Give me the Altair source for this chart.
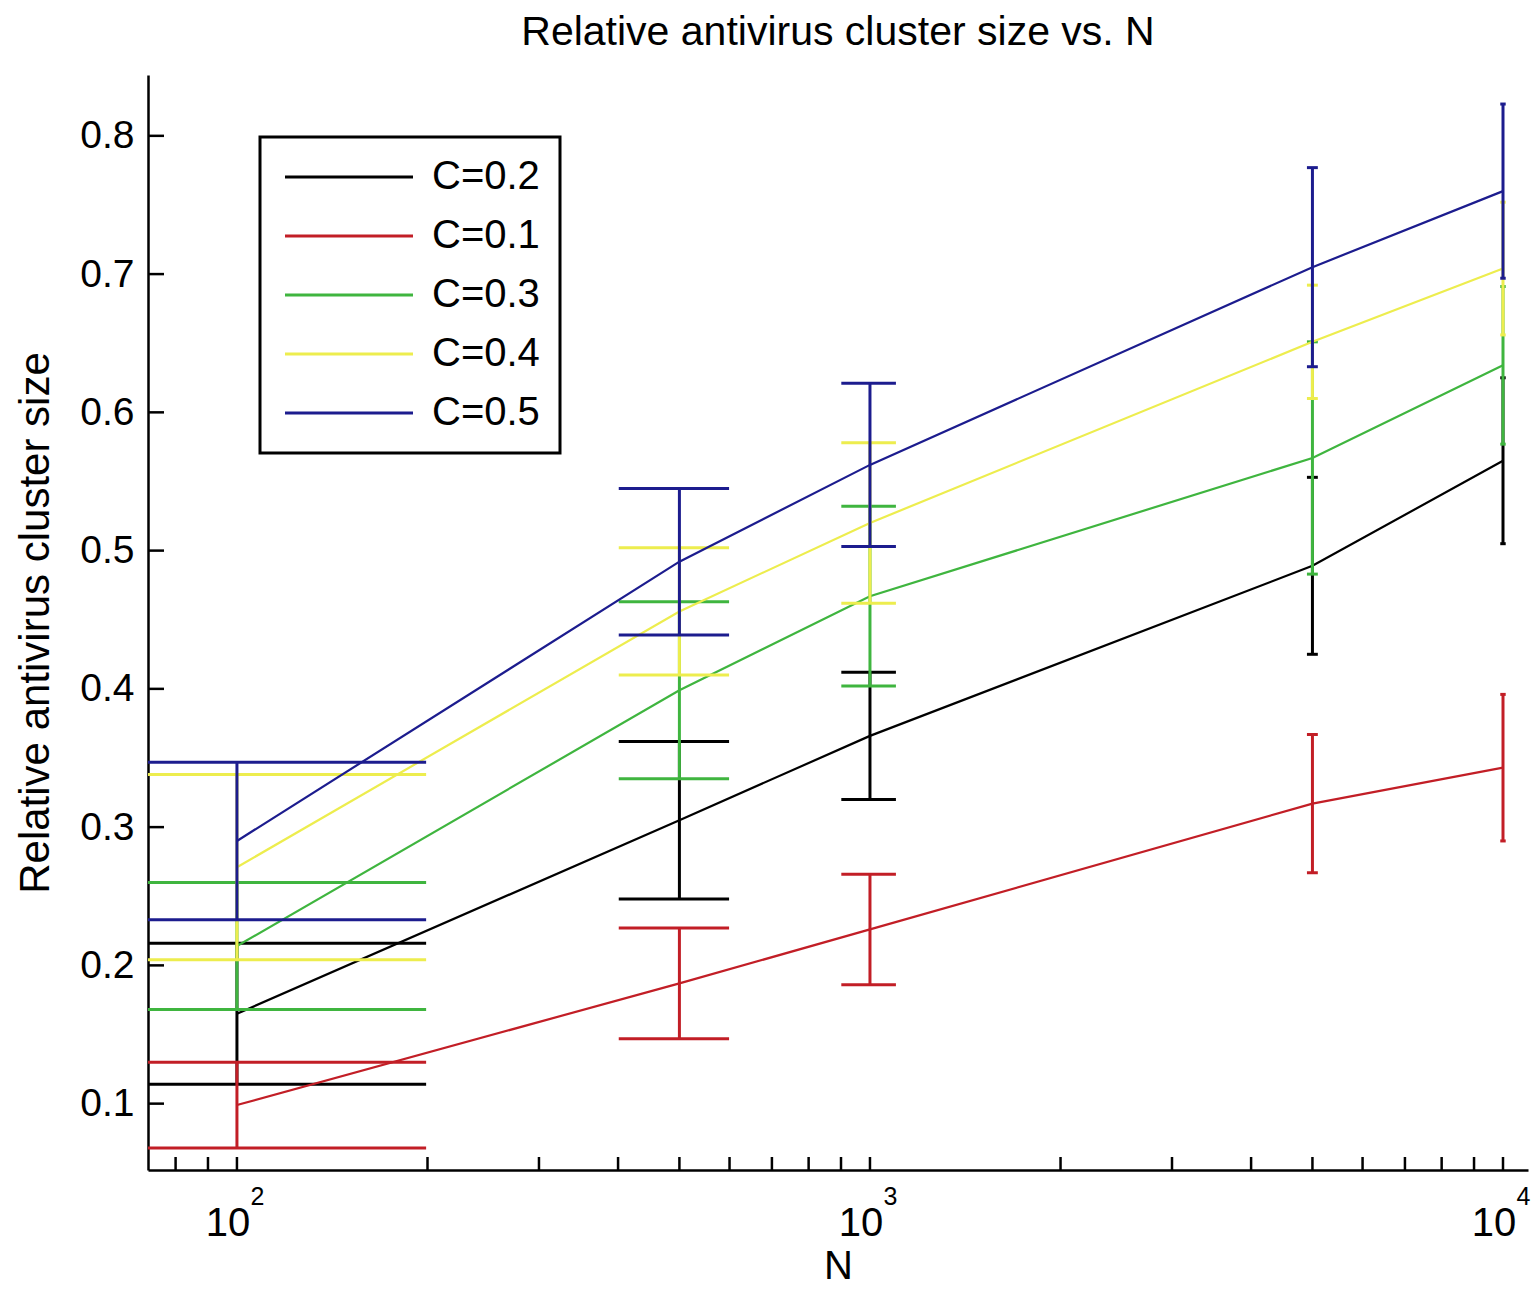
import altair as alt
import pandas as pd

# ---------------- data ----------------
series = ["C=0.2", "C=0.1", "C=0.3", "C=0.4", "C=0.5"]
colors = ["#000000", "#C21E26", "#3FB53F", "#EDED4E", "#1C1C8E"]
n_values = [100, 500, 1000, 5000, 10000]

mean_c02 = [0.165, 0.305, 0.366, 0.489, 0.565]
err_c02 = [0.051, 0.057, 0.046, 0.064, 0.060]
mean_c01 = [0.099, 0.187, 0.226, 0.317, 0.343]
err_c01 = [0.031, 0.040, 0.040, 0.050, 0.053]
mean_c03 = [0.214, 0.399, 0.467, 0.567, 0.634]
err_c03 = [0.046, 0.064, 0.065, 0.084, 0.057]
mean_c04 = [0.271, 0.456, 0.520, 0.651, 0.704]
err_c04 = [0.067, 0.046, 0.058, 0.041, 0.048]
mean_c05 = [0.290, 0.492, 0.562, 0.705, 0.760]
err_c05 = [0.057, 0.053, 0.059, 0.072, 0.063]

x_major_ticks = [100, 1000, 10000]
x_label_base = ["10", "10", "10"]
x_label_exp = ["2", "3", "4"]
x_minor_ticks = [80, 90, 200, 300, 400, 500, 600, 700, 800, 900,
                 2000, 3000, 4000, 5000, 6000, 7000, 8000, 9000]
y_ticks = [0.1, 0.2, 0.3, 0.4, 0.5, 0.6, 0.7, 0.8]

x_domain = [72.36, 10952]
y_domain = [0.052, 0.844]

# ---------------- build table ----------------
means = [mean_c02, mean_c01, mean_c03, mean_c04, mean_c05]
errs = [err_c02, err_c01, err_c03, err_c04, err_c05]
tee = (max(n_values) - min(n_values)) / 100.0  # MATLAB errorbar cap half-width

rows = []
for s, ml, el in zip(series, means, errs):
    for n, m, e in zip(n_values, ml, el):
        rows.append(dict(series=s, N=n, mean=m, lo=m - e, hi=m + e,
                         nlo=n - tee, nhi=n + tee))
df = pd.DataFrame(rows)

W, H = 1380, 1095
FONT = "Liberation Sans"

xscale = alt.Scale(type="log", domain=x_domain, nice=False)
yscale = alt.Scale(domain=y_domain, nice=False, zero=False)
cscale = alt.Scale(domain=series, range=colors)

xaxis = alt.Axis(values=x_major_ticks, labels=False, ticks=False, tickSize=0,
                 grid=False, domainColor="black", domainWidth=2.5,
                 title="N", titleFontSize=40, titleFont=FONT, titleFontWeight="normal",
                 titleColor="black", titleBaseline="alphabetic", titleY=108)
yaxis = alt.Axis(values=y_ticks, format=".1f", ticks=False, tickSize=0, grid=False,
                 domainColor="black", domainWidth=2.5,
                 labelFontSize=39, labelFont=FONT, labelColor="black", labelPadding=14,
                 labelFlush=False, labelOverlap=False,
                 title="Relative antivirus cluster size", titleFontSize=42, titleFont=FONT,
                 titleFontWeight="normal", titleColor="black", titleAngle=270,
                 titleBaseline="alphabetic", titleAlign="center", titleX=-100, titleY=H / 2)

legend = alt.Legend(title=None, orient="none", legendX=112, legendY=62,
                    symbolType="M-4,0L4,0", symbolSize=1024, symbolStrokeWidth=3,
                    symbolOffset=49, labelOffset=63,
                    labelFontSize=40, labelFont=FONT, labelColor="black",
                    labelLimit=400, padding=20, rowPadding=19,
                    fillColor="white", strokeColor="black")

X = lambda f: alt.X(f, scale=xscale, axis=xaxis)
Y = lambda f: alt.Y(f, scale=yscale, axis=yaxis)

# inward ticks drawn as rules at the tick values
xt = pd.DataFrame({"v": x_major_ticks + x_minor_ticks})
yt = pd.DataFrame({"v": y_ticks})
xl = pd.DataFrame({"v": x_major_ticks, "base": x_label_base, "exp": x_label_exp})

xticks = alt.Chart(xt).mark_rule(color="black", strokeWidth=2.5).encode(
    x=X("v:Q"), y=alt.value(H), y2=alt.value(H - 13))
yticks = alt.Chart(yt).mark_rule(color="black", strokeWidth=2.5).encode(
    y=Y("v:Q"), x=alt.value(0), x2=alt.value(16))
xlab_base = alt.Chart(xl).mark_text(
    font=FONT, fontSize=40, color="black", align="center", baseline="alphabetic", dx=-9
).encode(x=X("v:Q"), y=alt.value(H + 66), text="base:N")
xlab_exp = alt.Chart(xl).mark_text(
    font=FONT, fontSize=25, color="black", align="left", baseline="alphabetic", dx=13.5
).encode(x=X("v:Q"), y=alt.value(H + 35), text="exp:N")

layers = [xticks, yticks, xlab_base, xlab_exp]
base = alt.Chart(df)
for i, s in enumerate(series):
    b = base.transform_filter(alt.datum.series == s)
    leg = legend if i == 0 else None
    line = b.mark_line(strokeWidth=2.2, clip=True).encode(
        x=X("N:Q"), y=Y("mean:Q"),
        color=alt.Color("series:N", scale=cscale, legend=leg))
    vbar = b.mark_rule(strokeWidth=3, clip=True).encode(
        x=X("N:Q"), y=Y("lo:Q"), y2="hi:Q",
        color=alt.Color("series:N", scale=cscale, legend=None))
    cap_lo = b.mark_rule(strokeWidth=3, clip=True).encode(
        x=X("nlo:Q"), x2="nhi:Q", y=Y("lo:Q"),
        color=alt.Color("series:N", scale=cscale, legend=None))
    cap_hi = b.mark_rule(strokeWidth=3, clip=True).encode(
        x=X("nlo:Q"), x2="nhi:Q", y=Y("hi:Q"),
        color=alt.Color("series:N", scale=cscale, legend=None))
    layers += [line, vbar, cap_lo, cap_hi]

chart = alt.layer(*layers).properties(
    width=W, height=H,
    title=alt.Title("Relative antivirus cluster size vs. N", fontSize=41, font=FONT,
                    fontWeight="normal", color="black", anchor="middle", offset=21),
    autosize=alt.AutoSizeParams(type="none"),
    padding={"left": 140, "top": 67, "right": 3, "bottom": 117},
    background="white",
).configure_view(stroke=None).configure_legend(strokeWidth=3)

chart.save("out.html", embed_options={"renderer": "svg", "actions": False})
